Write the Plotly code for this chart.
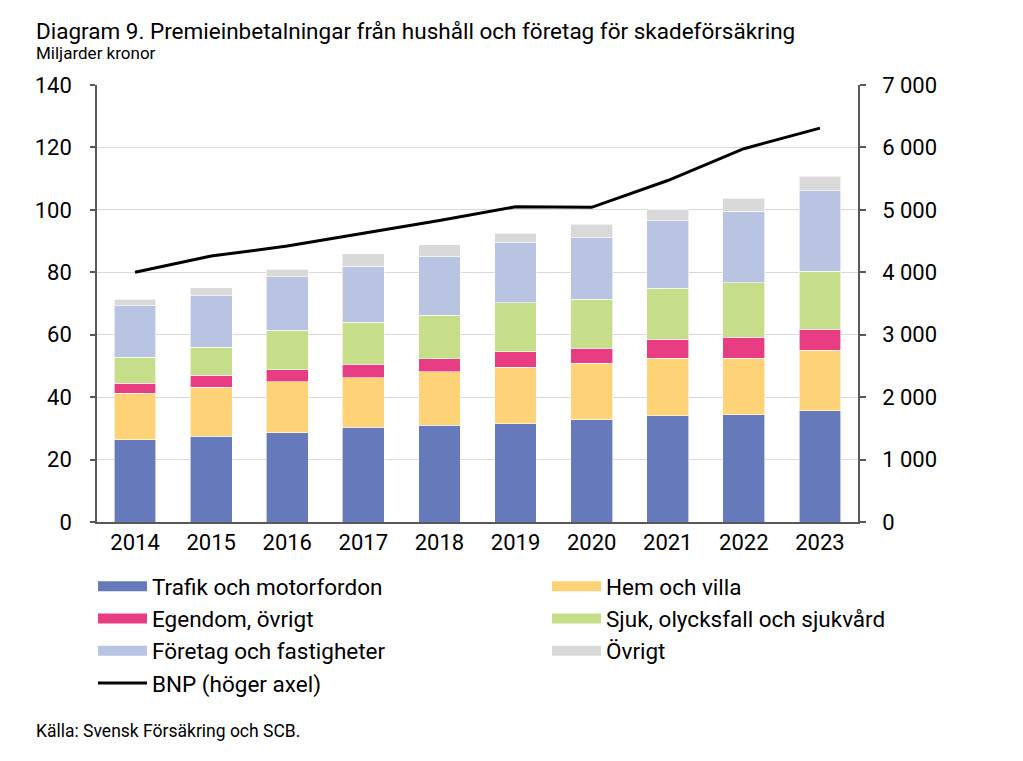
import plotly.graph_objects as go

# Data
years = ['2014', '2015', '2016', '2017', '2018', '2019', '2020', '2021', '2022', '2023']
trafik = [26.3, 27.5, 28.6, 30.4, 31.0, 31.5, 32.7, 34.0, 34.4, 35.7]
hem_villa = [15.0, 15.7, 16.4, 15.8, 17.1, 18.1, 18.1, 18.5, 18.1, 19.3]
egendom = [3.2, 3.8, 3.7, 4.4, 4.2, 4.9, 4.8, 6.0, 6.7, 6.7]
sjuk = [8.3, 9.0, 12.8, 13.4, 14.0, 15.7, 15.7, 16.4, 17.4, 18.6]
foretag = [16.5, 16.5, 17.0, 18.0, 18.9, 19.3, 19.8, 21.6, 23.0, 25.9]
ovrigt = [2.0, 2.5, 2.5, 3.9, 3.7, 3.0, 4.3, 3.5, 4.2, 4.5]
bnp = [4000, 4260, 4420, 4620, 4830, 5050, 5040, 5470, 5980, 6310]

# name, values, colour, legend column
series = [
    ('Trafik och motorfordon', trafik, '#6679BA', 'legend'),
    ('Hem och villa', hem_villa, '#FED378', 'legend2'),
    ('Egendom, övrigt', egendom, '#E83D82', 'legend'),
    ('Sjuk, olycksfall och sjukvård', sjuk, '#C6DE89', 'legend2'),
    ('Företag och fastigheter', foretag, '#B9C4E2', 'legend'),
    ('Övrigt', ovrigt, '#D9D9D9', 'legend2'),
]

FONT = 'Roboto'
W, H = 1023, 761
L, R, T, B = 97, 858, 85, 522


def px(x):
    return (x - L) / (R - L)


def py(y):
    return (B - y) / (B - T)


data = []
for name, vals, col, lg in series:
    data.append(go.Bar(
        x=years, y=vals, name=name, marker=dict(color=col, line=dict(color='white', width=0.6)),
        showlegend=False, width=0.55
    ))
# legend entries drawn as wide rectangles
for name, vals, col, lg in series:
    data.append(go.Scatter(
        x=[None], y=[None], mode='lines', name=name, legend=lg,
        line=dict(color=col, width=13)
    ))
data.append(go.Scatter(
    x=years, y=bnp, name='BNP (höger axel)', mode='lines', legend='legend',
    line=dict(color='black', width=3), yaxis='y2'
))

legend_style = dict(
    orientation='v', xref='container', yref='container', xanchor='left', yanchor='top',
    y=1 - 565 / H, itemwidth=49, font=dict(size=22.5), traceorder='normal',
    bgcolor='rgba(0,0,0,0)'
)

layout = go.Layout(
    width=W, height=H,
    margin=dict(l=L, r=W - R, t=T, b=H - B, autoexpand=False),
    barmode='stack',
    plot_bgcolor='white', paper_bgcolor='white',
    font=dict(family=FONT, size=22, color='black'),
    separators=', ',
    xaxis=dict(
        showline=True, linecolor='#595959', linewidth=1.5,
        ticks='', tickfont=dict(size=22), showgrid=False
    ),
    yaxis=dict(
        range=[0, 140], dtick=20, showline=True, linecolor='#595959', linewidth=1.5,
        ticks='outside', ticklen=5, tickcolor='#595959', tickwidth=1.5,
        gridcolor='#D9D9D9', gridwidth=1.2, ticklabelstandoff=14, zeroline=False
    ),
    yaxis2=dict(
        range=[0, 7000], dtick=1000, overlaying='y', side='right',
        showline=True, linecolor='#595959', linewidth=1.5,
        ticks='outside', ticklen=6, tickcolor='#595959', tickwidth=1.5,
        showgrid=False, separatethousands=True, ticklabelstandoff=12, zeroline=False
    ),
    legend=dict(legend_style, x=93 / W),
    legend2=dict(legend_style, x=547 / W),
    annotations=[
        dict(text='Diagram 9. Premieinbetalningar från hushåll och företag för skadeförsäkring',
             xref='paper', yref='paper', x=px(34), y=py(31), xanchor='left', yanchor='middle',
             showarrow=False, font=dict(size=22.5)),
        dict(text='Miljarder kronor',
             xref='paper', yref='paper', x=px(34), y=py(53), xanchor='left', yanchor='middle',
             showarrow=False, font=dict(size=17)),
        dict(text='Källa: Svensk Försäkring och SCB.',
             xref='paper', yref='paper', x=px(34), y=py(731), xanchor='left', yanchor='middle',
             showarrow=False, font=dict(size=17.5)),
    ],
)

fig = go.Figure(data=data, layout=layout)
# page margin off so the figure sits at the window's top-left corner
fig.write_html('out.html', config={'displayModeBar': False},
               post_script="document.body.style.margin='0px';")
